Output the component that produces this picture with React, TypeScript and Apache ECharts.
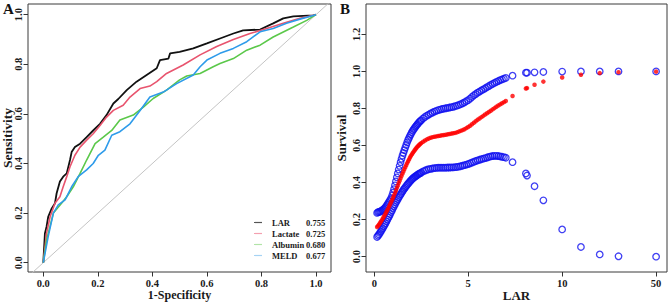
import React, { useEffect, useRef } from 'react';
import * as echarts from 'echarts';

const FONT = '"Liberation Serif", "Times New Roman", serif';

// ---------- Panel A: ROC curves (1-Specificity, Sensitivity) ----------
const rocLAR = [[0,0],[0.006,0.118],[0.012,0.145],[0.018,0.185],[0.031,0.219],[0.043,0.24],[0.049,0.28],[0.061,0.327],[0.073,0.347],[0.086,0.36],[0.098,0.414],[0.104,0.446],[0.116,0.466],[0.135,0.48],[0.159,0.506],[0.183,0.533],[0.208,0.56],[0.232,0.595],[0.257,0.642],[0.275,0.66],[0.306,0.696],[0.342,0.73],[0.379,0.757],[0.416,0.784],[0.428,0.817],[0.459,0.823],[0.465,0.844],[0.5,0.85],[0.55,0.864],[0.6,0.884],[0.648,0.904],[0.697,0.924],[0.733,0.937],[0.795,0.94],[0.843,0.965],[0.88,0.985],[0.917,0.993],[0.99,0.997],[1,1]];
const rocLactate = [[0,0],[0.012,0.118],[0.025,0.185],[0.043,0.24],[0.061,0.266],[0.073,0.306],[0.086,0.347],[0.098,0.387],[0.116,0.433],[0.135,0.466],[0.159,0.494],[0.183,0.52],[0.208,0.553],[0.232,0.587],[0.257,0.614],[0.293,0.635],[0.318,0.668],[0.355,0.702],[0.391,0.712],[0.416,0.73],[0.452,0.763],[0.513,0.797],[0.575,0.838],[0.636,0.872],[0.697,0.9],[0.758,0.924],[0.819,0.944],[0.88,0.965],[0.941,0.985],[1,1]];
const rocAlbumin = [[0,0],[0.012,0.091],[0.037,0.2],[0.067,0.24],[0.086,0.266],[0.11,0.306],[0.135,0.36],[0.159,0.414],[0.19,0.48],[0.22,0.506],[0.251,0.533],[0.281,0.575],[0.33,0.595],[0.367,0.627],[0.403,0.662],[0.452,0.696],[0.5,0.737],[0.526,0.753],[0.575,0.763],[0.623,0.79],[0.648,0.803],[0.697,0.823],[0.746,0.857],[0.795,0.877],[0.843,0.91],[0.917,0.95],[0.966,0.977],[1,1]];
const rocMELD = [[0,0],[0.018,0.105],[0.037,0.2],[0.055,0.233],[0.08,0.253],[0.104,0.306],[0.128,0.347],[0.159,0.374],[0.183,0.4],[0.202,0.433],[0.226,0.454],[0.251,0.514],[0.281,0.528],[0.318,0.56],[0.355,0.614],[0.391,0.668],[0.44,0.688],[0.489,0.722],[0.55,0.757],[0.575,0.79],[0.6,0.817],[0.648,0.844],[0.697,0.864],[0.746,0.891],[0.795,0.931],[0.843,0.944],[0.892,0.965],[0.941,0.982],[1,1]];
const rocNames = ['LAR', 'Lactate', 'Albumin', 'MELD'];
const rocAUC = ['0.755', '0.725', '0.680', '0.677'];
const rocColors = ['#111111', '#E8546E', '#5BC84A', '#2E9BEA'];
const rocLegendColors = ['#555555', '#F4A0B0', '#B2E4A8', '#A6D3F4'];
const rocTicks = [0, 0.2, 0.4, 0.6, 0.8, 1.0];

// ---------- Panel B: survival vs LAR ----------
const lar = [0.15,0.2,0.3,0.4,0.5,0.6,0.7,0.8,0.9,1.0,1.1,1.2,1.3,1.4,1.5,1.6,1.7,1.8,1.9,2.0,2.1,2.2,2.3,2.4,2.5,2.6,2.7,2.8,2.9,3.0,3.1,3.2,3.3,3.4,3.5,3.6,3.7,3.8,3.9,4.0,4.1,4.2,4.3,4.4,4.5,4.6,4.7,4.8,4.9,5.0,5.1,5.2,5.3,5.4,5.5,5.6,5.7,5.8,5.9,6.0,6.1,6.2,6.3,6.4,6.5,6.6,6.7,6.8,6.9,7.0,7.36,8.07,8.13,8.53,9.0,10,11,12,13,50];
const survival = [0.160,0.166,0.180,0.196,0.214,0.233,0.252,0.273,0.295,0.318,
0.343,0.370,0.397,0.423,0.448,0.472,0.494,0.515,0.535,0.552,
0.567,0.581,0.594,0.604,0.613,0.620,0.627,0.633,0.638,0.642,
0.645,0.647,0.649,0.651,0.653,0.655,0.656,0.658,0.660,0.662,
0.664,0.666,0.668,0.671,0.675,0.679,0.683,0.688,0.694,0.700,
0.707,0.715,0.723,0.731,0.739,0.746,0.753,0.760,0.767,0.774,
0.781,0.788,0.795,0.802,0.809,0.816,0.822,0.828,0.834,0.840,
0.867,0.908,0.910,0.928,0.945,0.967,0.982,0.991,0.996,0.999];
const upperCI = [0.236,0.240,0.243,0.248,0.256,0.267,0.282,0.298,0.316,0.345,
0.385,0.428,0.470,0.510,0.545,0.575,0.603,0.630,0.652,0.672,
0.688,0.702,0.715,0.727,0.737,0.746,0.754,0.761,0.767,0.773,
0.778,0.783,0.787,0.791,0.794,0.797,0.799,0.801,0.803,0.805,
0.807,0.809,0.812,0.815,0.819,0.823,0.828,0.833,0.839,0.845,
0.853,0.862,0.871,0.878,0.885,0.891,0.897,0.903,0.909,0.915,
0.921,0.927,0.933,0.938,0.943,0.948,0.953,0.957,0.961,0.965,
0.977,0.993,0.993,0.995,0.997,0.999,1.0,1.0,1.0,1.0];
const lowerCI = [0.106,0.113,0.128,0.145,0.162,0.180,0.200,0.220,0.241,0.262,
0.282,0.301,0.319,0.336,0.352,0.367,0.381,0.394,0.406,0.417,
0.426,0.434,0.441,0.448,0.454,0.460,0.465,0.469,0.472,0.474,
0.476,0.478,0.479,0.480,0.480,0.480,0.480,0.480,0.481,0.481,
0.482,0.482,0.483,0.484,0.486,0.488,0.491,0.494,0.497,0.500,
0.504,0.508,0.512,0.516,0.520,0.523,0.526,0.529,0.532,0.535,
0.538,0.541,0.543,0.544,0.544,0.543,0.541,0.539,0.537,0.534,
0.510,0.449,0.438,0.380,0.304,0.147,0.052,0.012,0.002,0.000];
// additional observations in the dense, steep part of the curve
const larExtra = [0.25,0.35,0.45,0.55,0.65,0.75,0.85,0.95,1.05,1.15,1.25,1.35,1.45,1.55,1.65,1.75,1.85,1.95,2.05,2.15,2.25,2.35,2.45];
const survivalExtra = [0.173,0.188,0.205,0.223,0.242,0.262,0.284,0.306,0.330,0.356,0.383,0.410,0.436,0.460,0.483,0.505,0.525,0.544,0.560,0.574,0.588,0.599,0.609];
const upperExtra = [0.241,0.245,0.252,0.261,0.274,0.290,0.307,0.330,0.364,0.406,0.449,0.490,0.528,0.560,0.589,0.617,0.641,0.662,0.680,0.695,0.709,0.721,0.732];
const lowerExtra = [0.120,0.136,0.153,0.171,0.190,0.210,0.230,0.251,0.272,0.292,0.310,0.328,0.344,0.360,0.374,0.388,0.400,0.412,0.422,0.430,0.438,0.445,0.451];
const larTickLabels = [0, 5, 10, 50];
const survivalTicks = [0, 0.2, 0.4, 0.6, 0.8, 1.0, 1.2];

// broken x axis: values above 13 are drawn at position 15 (label "50")
const larPos = (v: number) => (v > 13 ? 15 : v);
const larTickPos = larTickLabels.map(larPos);

const labelStyle = { fontFamily: FONT, fontWeight: 'bold' as const, color: '#1a1a1a' };
const tickStyle = { show: true, length: 4.5, lineStyle: { color: '#333', width: 1 } };

function pairs(xs: number[], ys: number[], xe: number[], ye: number[]) {
  const out = xs.map((v, i) => [larPos(v), ys[i]]);
  xe.forEach((v, i) => out.push([larPos(v), ye[i]]));
  return out;
}

function buildOption() {
  const rocData = [rocLAR, rocLactate, rocAlbumin, rocMELD];
  const series: any[] = [
    {
      type: 'line', xAxisIndex: 0, yAxisIndex: 0, silent: true, showSymbol: false,
      data: [[-0.06, -0.06], [1.06, 1.06]],
      lineStyle: { color: '#c4c4c4', width: 1 }, clip: true, z: 1,
    },
  ];
  rocNames.forEach((n, i) => {
    series.push({
      name: n, type: 'line', xAxisIndex: 0, yAxisIndex: 0, silent: true,
      showSymbol: false, data: rocData[i], clip: true, z: 2 + i,
      lineStyle: { color: rocColors[i], width: i === 0 ? 1.8 : 1.6 },
      itemStyle: { color: rocColors[i] },
    });
  });
  const blueCircle = { color: 'rgba(0,0,0,0)', borderColor: '#1010F0', borderWidth: 1.3 };
  series.push({
    type: 'scatter', xAxisIndex: 1, yAxisIndex: 1, silent: true,
    data: pairs(lar, upperCI, larExtra, upperExtra),
    symbol: 'circle', symbolSize: 6.5, itemStyle: blueCircle, z: 2,
  });
  series.push({
    type: 'scatter', xAxisIndex: 1, yAxisIndex: 1, silent: true,
    data: pairs(lar, lowerCI, larExtra, lowerExtra),
    symbol: 'circle', symbolSize: 6.5, itemStyle: blueCircle, z: 2,
  });
  series.push({
    type: 'scatter', xAxisIndex: 1, yAxisIndex: 1, silent: true,
    data: pairs(lar, survival, larExtra, survivalExtra),
    symbol: 'circle', symbolSize: 4.5, itemStyle: { color: '#FF0000' }, z: 3,
  });

  const gridCommon = { show: true, borderColor: '#3a3a3a', borderWidth: 1, backgroundColor: 'transparent', containLabel: false, outerBoundsMode: 'none' };

  return {
    animation: false,
    backgroundColor: '#ffffff',
    grid: [
      { ...gridCommon, left: 28, top: 4, width: 303, height: 268 },
      { ...gridCommon, left: 366, top: 4, width: 301, height: 268 },
    ],
    xAxis: [
      {
        gridIndex: 0, type: 'value', min: -0.056, max: 1.055,
        axisLine: { show: false, onZero: false }, splitLine: { show: false },
        axisTick: { ...tickStyle, customValues: rocTicks },
        axisLabel: { ...labelStyle, fontSize: 10.5, lineHeight: 11, margin: 6, customValues: rocTicks, formatter: (v: number) => v.toFixed(1) },
        name: '1-Specificity', nameLocation: 'middle', nameGap: 17, nameMoveOverlap: false,
        nameTextStyle: { ...labelStyle, fontSize: 12, lineHeight: 12 },
      },
      {
        gridIndex: 1, type: 'value', min: -0.44, max: 15.58,
        axisLine: { show: false, onZero: false }, splitLine: { show: false },
        axisTick: { ...tickStyle, customValues: larTickPos },
        axisLabel: {
          ...labelStyle, fontSize: 10.5, lineHeight: 11, margin: 6, customValues: larTickPos,
          formatter: (v: number) => String(larTickLabels[larTickPos.indexOf(v)] ?? v),
        },
        name: 'LAR', nameLocation: 'middle', nameGap: 17, nameMoveOverlap: false,
        nameTextStyle: { ...labelStyle, fontSize: 13, lineHeight: 13 },
      },
    ],
    yAxis: [
      {
        gridIndex: 0, type: 'value', min: -0.0375, max: 1.043,
        axisLine: { show: false, onZero: false }, splitLine: { show: false },
        axisTick: { ...tickStyle, customValues: rocTicks },
        axisLabel: { ...labelStyle, fontSize: 10.5, margin: 4, rotate: 90, customValues: rocTicks, formatter: (v: number) => v.toFixed(1) },
        name: 'Sensitivity', nameLocation: 'middle', nameGap: 14, nameMoveOverlap: false,
        nameTextStyle: { ...labelStyle, fontSize: 13.5, lineHeight: 14 },
      },
      {
        gridIndex: 1, type: 'value', min: -0.083, max: 1.364,
        axisLine: { show: false, onZero: false }, splitLine: { show: false },
        axisTick: { ...tickStyle, customValues: survivalTicks },
        axisLabel: { ...labelStyle, fontSize: 10.5, margin: 4, rotate: 90, customValues: survivalTicks, formatter: (v: number) => v.toFixed(1) },
        name: 'Survival', nameLocation: 'middle', nameGap: 18, nameMoveOverlap: false,
        nameTextStyle: { ...labelStyle, fontSize: 13, lineHeight: 13 },
      },
    ],
    legend: {
      left: 249, top: 212, orient: 'vertical', icon: 'rect',
      itemWidth: 8, itemHeight: 1.2, itemGap: 0, selectedMode: false,
      textStyle: {
        ...labelStyle, fontSize: 8.5, lineHeight: 11,
        rich: {
          g: { width: 5, fontSize: 8.5, lineHeight: 11 },
          n: { width: 34, fontSize: 8.5, lineHeight: 11, fontFamily: FONT, fontWeight: 'bold', color: '#1a1a1a' },
          v: { fontSize: 8.5, lineHeight: 11, fontFamily: FONT, fontWeight: 'bold', color: '#1a1a1a' },
        },
      },
      data: rocNames.map((n, i) => ({
        name: n,
        itemStyle: { color: rocLegendColors[i] },
        lineStyle: { color: rocLegendColors[i] },
      })),
      formatter: (name: string) => `{g|}{n|${name}}{v|${rocAUC[rocNames.indexOf(name)]}}`,
    },
    graphic: [
      { type: 'text', left: 3, top: 1, style: { text: 'A', font: `bold 15px ${FONT}`, fill: '#111' } },
      { type: 'text', left: 340, top: 1, style: { text: 'B', font: `bold 15px ${FONT}`, fill: '#111' } },
    ],
    series,
  };
}

export default function App() {
  const ref = useRef<HTMLDivElement>(null);
  useEffect(() => {
    if (!ref.current) return;
    const chart = echarts.init(ref.current, null, { renderer: 'svg' });
    chart.setOption(buildOption() as any);
    return () => chart.dispose();
  }, []);
  return (
    <div
      ref={ref}
      style={{ position: 'absolute', left: 0, top: 0, width: 669, height: 303, background: '#fff' }}
    />
  );
}
